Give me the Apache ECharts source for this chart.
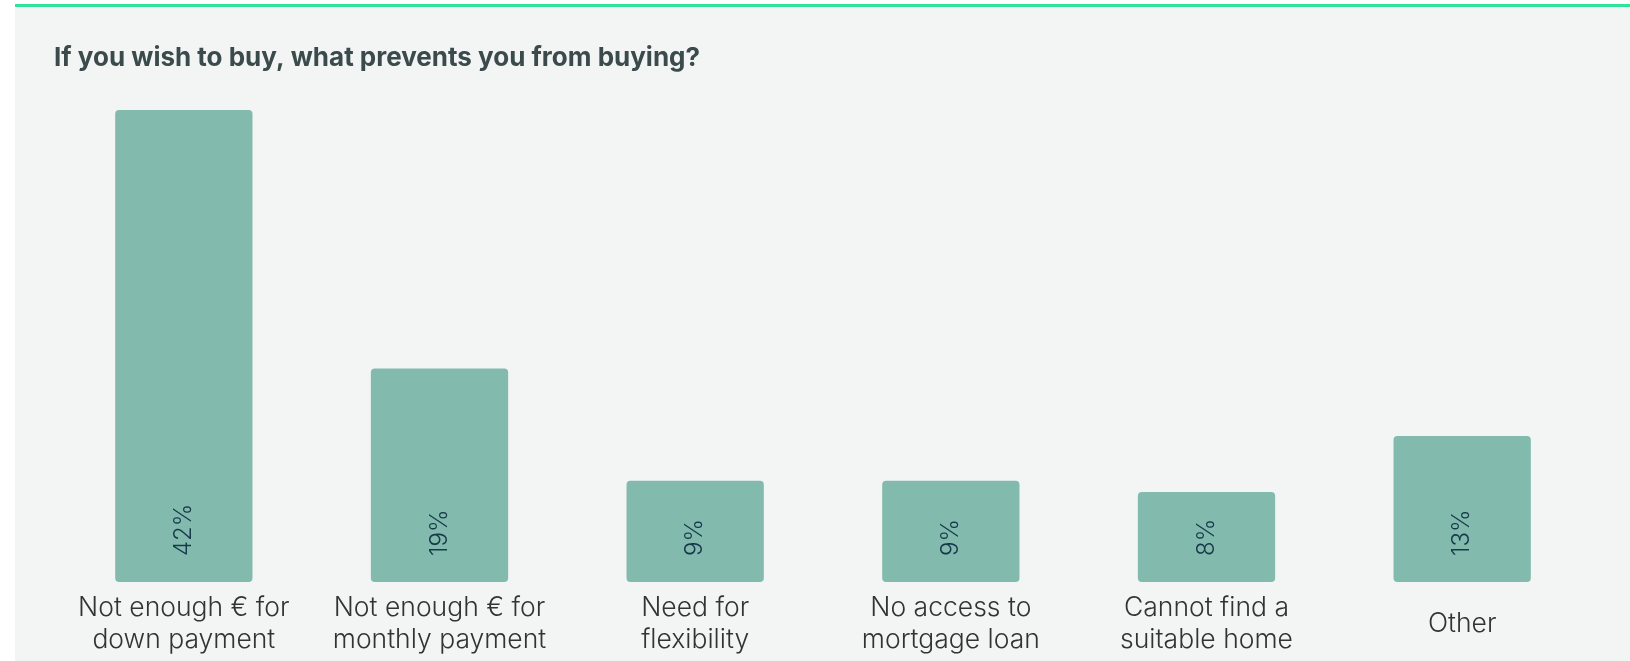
<!DOCTYPE html>
<html>
<head>
<meta charset="utf-8">
<title>If you wish to buy, what prevents you from buying?</title>
<script src="https://cdn.jsdelivr.net/npm/echarts@6/dist/echarts.min.js"></script>
<style>
  html, body { margin: 0; padding: 0; background: #ffffff; }
  #panel {
    position: absolute; left: 15px; top: 4px; width: 1615px; height: 657px;
    background: #f3f4f4; border-top: 3px solid #2fe39a; box-sizing: border-box;
  }
  #chart { position: absolute; left: 0; top: 0; width: 1630px; height: 661px; }
</style>
</head>
<body>
<div id="panel"></div>
<div id="chart"></div>
<script>
// Reasons given for not buying a home (share of respondents, %)
const categories = [
  'Not enough € for\ndown payment',
  'Not enough € for\nmonthly payment',
  'Need for\nflexibility',
  'No access to\nmortgage loan',
  'Cannot find a\nsuitable home',
  'Other'
];
const shares = [42, 19, 9, 9, 8, 13];
const chartTitle = 'If you wish to buy, what prevents you from buying?';

const chart = echarts.init(document.getElementById('chart'), null, { renderer: 'canvas' });

chart.setOption({
  backgroundColor: 'transparent',
  animation: false,
  title: {
    text: chartTitle,
    left: 49,
    top: 40,
    textStyle: {
      fontFamily: 'Inter',
      fontWeight: 'bold',
      fontSize: 26,
      color: '#3b4b4b'
    }
  },
  grid: { left: 56, right: 40, top: 110, bottom: 79 },
  xAxis: {
    type: 'category',
    data: categories,
    axisLine: { show: false },
    axisTick: { show: false },
    axisLabel: {
      interval: 0,
      margin: 42,
      verticalAlign: 'middle',
      fontFamily: 'Inter',
      fontWeight: 300,
      fontSize: 26.5,
      lineHeight: 32,
      color: '#333333'
    }
  },
  yAxis: {
    type: 'value',
    min: 0,
    max: 42,
    show: false
  },
  series: [{
    type: 'bar',
    data: shares,
    barWidth: '53.7%',
    itemStyle: { color: '#82bbad', borderRadius: [4, 4, 4, 4] },
    label: {
      show: true,
      position: 'insideBottom',
      distance: 26,
      rotate: 90,
      align: 'left',
      verticalAlign: 'middle',
      formatter: '{c}%',
      fontFamily: 'Inter',
      fontWeight: 300,
      fontSize: 24,
      color: '#17394a'
    }
  }]
});
</script>
</body>
</html>
